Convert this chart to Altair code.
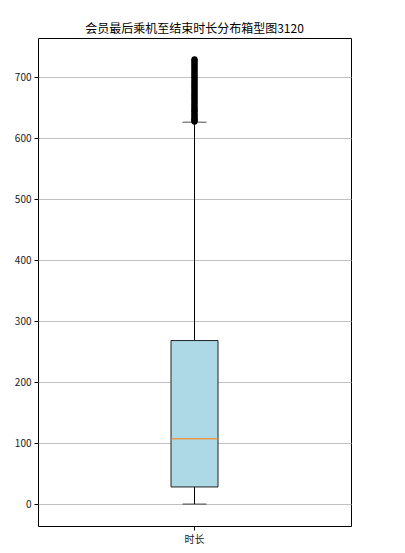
import altair as alt
import pandas as pd

category = ["时长"]
q1 = [28]
median = [107]
q3 = [268]
whisker_low = [0]
whisker_high = [626]
outliers = [627, 629, 631, 633, 636, 638, 641, 644, 646, 649, 652, 655, 658, 661,
            664, 667, 670, 673, 676, 679, 682, 685, 688, 691, 694, 697, 700, 703,
            706, 709, 712, 715, 718, 721, 724, 727, 729]
y_ticks = [0, 100, 200, 300, 400, 500, 600, 700]
title_text = "会员最后乘机至结束时长分布箱型图3120"

FONT = "Noto Sans CJK SC"

summary = pd.DataFrame({
    "cat": category, "q1": q1, "median": median, "q3": q3,
    "lo": whisker_low, "hi": whisker_high,
})
out_df = pd.DataFrame({"cat": category * len(outliers), "v": outliers})

x_enc = alt.X("cat:N", title=None,
              scale=alt.Scale(paddingInner=0, paddingOuter=0),
              axis=alt.Axis(labelAngle=0, labelFont=FONT, labelFontSize=10,
                            labelColor="#222", tickColor="#000", tickSize=4,
                            domain=False, grid=False, labelPadding=4))
y_scale = alt.Scale(domain=[-36, 764], nice=False, zero=False)
y_axis = alt.Axis(values=y_ticks, labelFont=FONT, labelFontSize=10,
                  labelColor="#222", tickColor="#000", tickSize=4,
                  domain=False, grid=True, gridColor="#c0c0c0", gridWidth=1,
                  labelPadding=3, title=None)

base = alt.Chart(summary)

grid_layer = base.mark_rule(opacity=0).encode(
    x=x_enc,
    y=alt.Y("lo:Q", scale=y_scale, axis=y_axis),
)

whisker_lower = base.mark_rule(color="black", strokeWidth=1).encode(
    x="cat:N", y="lo:Q", y2="q1:Q")
whisker_upper = base.mark_rule(color="black", strokeWidth=1).encode(
    x="cat:N", y="q3:Q", y2="hi:Q")
cap_low = base.mark_tick(color="black", size=24, thickness=1).encode(
    x="cat:N", y="lo:Q")
cap_high = base.mark_tick(color="black", size=24, thickness=1).encode(
    x="cat:N", y="hi:Q")
box = base.mark_bar(size=47, color="#add8e6", stroke="#222", strokeWidth=1).encode(
    x="cat:N", y="q1:Q", y2="q3:Q")
med = base.mark_tick(color="#ff7f0e", size=47, thickness=1.5).encode(
    x="cat:N", y="median:Q")
pts = alt.Chart(out_df).mark_point(filled=True, color="black", size=40, opacity=1).encode(
    x="cat:N", y="v:Q")

chart = alt.layer(
    grid_layer, whisker_lower, whisker_upper, box, med, cap_low, cap_high, pts
).properties(
    width=313, height=488,
    background="white",
    title=alt.TitleParams(title_text, font=FONT, fontSize=12, fontWeight="normal",
                          color="#000", anchor="middle", offset=2),
    autosize=alt.AutoSizeParams(type="none"),
    padding={"left": 30, "top": 30, "right": 46, "bottom": 19},
).configure_view(stroke="#000", strokeWidth=1)

chart.save("out.html", embed_options={"renderer": "svg", "actions": False})
